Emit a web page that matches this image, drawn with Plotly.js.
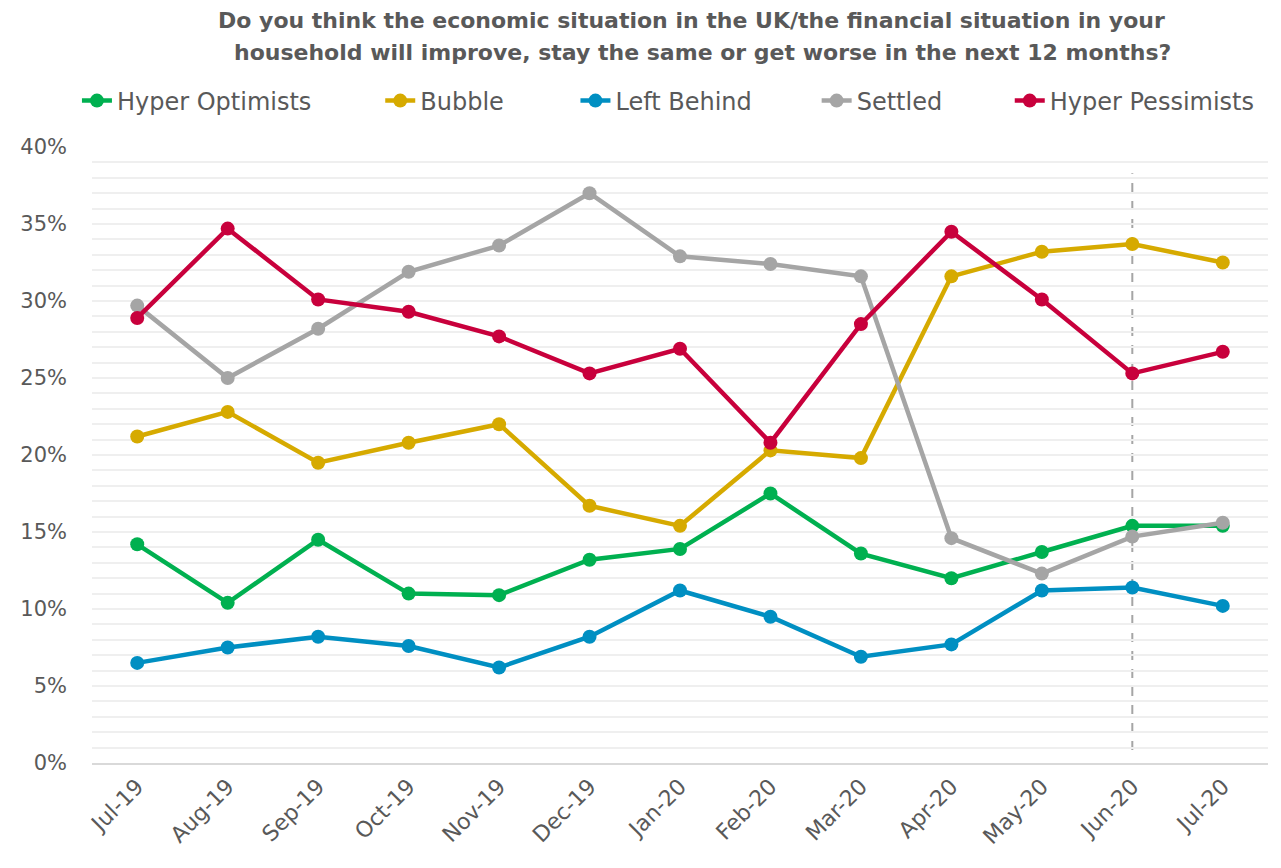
<!DOCTYPE html>
<html>
<head>
<meta charset="utf-8">
<script src="https://cdn.plot.ly/plotly-3.0.1.min.js"></script>
<style>html,body{margin:0;padding:0;background:#fff;}#chart{width:1281px;height:868px;}</style>
</head>
<body>
<div id="chart"></div>
<script>
const months = ["Jul-19","Aug-19","Sep-19","Oct-19","Nov-19","Dec-19","Jan-20","Feb-20","Mar-20","Apr-20","May-20","Jun-20","Jul-20"];
const hyperOptimists = [14.2,10.4,14.5,11.0,10.9,13.2,13.9,17.5,13.6,12.0,13.7,15.4,15.4];
const bubble = [21.2,22.8,19.5,20.8,22.0,16.7,15.4,20.3,19.8,31.6,33.2,33.7,32.5];
const leftBehind = [6.5,7.5,8.2,7.6,6.2,8.2,11.2,9.5,6.9,7.7,11.2,11.4,10.2];
const settled = [29.7,25.0,28.2,31.9,33.6,37.0,32.9,32.4,31.6,14.6,12.3,14.7,15.6];
const hyperPessimists = [28.9,34.7,30.1,29.3,27.7,25.3,26.9,20.8,28.5,34.5,30.1,25.3,26.7];
const markerMonth = "Jun-20";
const titleLines = ["Do you think the economic situation in the UK/the financial situation in your",
                    "household will improve, stay the same or get worse in the next 12 months?"];

const seriesNames = ["Hyper Optimists","Bubble","Left Behind","Settled","Hyper Pessimists"];
const seriesData = [hyperOptimists,bubble,leftBehind,settled,hyperPessimists];
const colors = ["#00B050","#D6AA00","#008FC2","#A5A5A5","#C8003C"];
const legendIds = ["legend","legend2","legend3","legend4","legend5"];
const legendX = [-0.0128,0.2451,0.4111,0.6162,0.7804];
const drawOrder = [2,0,1,3,4];

const traces = drawOrder.map(i => ({
  type:"scatter", mode:"lines+markers", name:seriesNames[i],
  x:months, y:seriesData[i].map(v=>v/100),
  line:{color:colors[i], width:4.5},
  marker:{color:colors[i], size:14},
  legend:legendIds[i],
  hoverinfo:"x+y+name"
}));

const font = "'DejaVu Sans', sans-serif";
const layout = {
  width:1281, height:868,
  margin:{l:92, r:13, t:147, b:105},
  paper_bgcolor:"#fff", plot_bgcolor:"#fff",
  showlegend:true,
  annotations: titleLines.map((t,k)=>({
    text:"<b>"+t+"</b>", xref:"paper", yref:"paper",
    x:[0.510,0.519][k], y:[1.206,1.154][k], xanchor:"center", yanchor:"middle",
    showarrow:false, font:{family:"'DejaVu Sans', sans-serif", size:22, color:"#595959"}
  })),
  xaxis:{type:"category", range:[-0.5,12.5], tickangle:-45,
    tickfont:{family:font, size:22, color:"#595959"},
    showgrid:false, showline:true, linecolor:"#D9D9D9", linewidth:2,
    ticks:"", zeroline:false, fixedrange:true},
  yaxis:{range:[0,0.40], dtick:0.05, tickformat:".0%",
    tickfont:{family:font, size:21, color:"#595959"},
    showgrid:true, gridcolor:"#EFEFEF", gridwidth:2,
    minor:{dtick:0.01, showgrid:true, gridcolor:"#EFEFEF", gridwidth:2},
    zeroline:false, ticks:"", ticklabelstandoff:24, fixedrange:true},
  shapes:[{type:"line", xref:"x", yref:"y", x0:markerMonth, x1:markerMonth,
    y0:0.0085, y1:0.383, line:{color:"#A5A5A5", width:2, dash:"dash"}, layer:"below"}]
};
legendIds.forEach((id,i)=>{
  layout[id] = {orientation:"h", x:legendX[i], xanchor:"left", y:1.0747, yanchor:"middle",
    font:{family:font, size:24, color:"#595959"}, bgcolor:"rgba(0,0,0,0)"};
});
Plotly.newPlot("chart", traces, layout, {displayModeBar:false, staticPlot:true});
</script>
</body>
</html>
